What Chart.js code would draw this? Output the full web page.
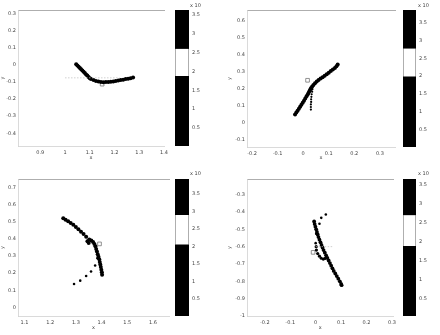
<!DOCTYPE html>
<html><head><meta charset="utf-8">
<script src="https://cdn.jsdelivr.net/npm/chart.js@4"></script>
<style>
html,body{margin:0;padding:0;background:#fff;}
#wrap{position:relative;width:440px;height:335px;overflow:hidden;background:#fff;}
canvas{position:absolute;}
.exp{position:absolute;font:5px "DejaVu Sans";color:#444;white-space:nowrap;}
</style></head><body>
<div id="wrap">
<canvas id="s1" width="172" height="165" style="left:0;top:0;width:172px;height:165px"></canvas>
<canvas id="c1" width="48" height="165" style="left:172px;top:0;width:48px;height:165px"></canvas>
<canvas id="s2" width="180" height="165" style="left:220px;top:0;width:180px;height:165px"></canvas>
<canvas id="c2" width="40" height="165" style="left:400px;top:0;width:40px;height:165px"></canvas>
<canvas id="s3" width="174" height="167" style="left:0;top:168px;width:174px;height:167px"></canvas>
<canvas id="c3" width="46" height="167" style="left:174px;top:168px;width:46px;height:167px"></canvas>
<canvas id="s4" width="180" height="167" style="left:220px;top:168px;width:180px;height:167px"></canvas>
<canvas id="c4" width="40" height="167" style="left:400px;top:168px;width:40px;height:167px"></canvas>
<div class="exp" style="left:190px;top:2px">x 10</div>
<div class="exp" style="left:418px;top:2px">x 10</div>
<div class="exp" style="left:190px;top:170px">x 10</div>
<div class="exp" style="left:418px;top:170px">x 10</div>
</div>
<script>
// ---------- Panel 1 (top-left) ----------
const p1XTicks = [0.9, 1, 1.1, 1.2, 1.3, 1.4];
const p1YTicks = [-0.4, -0.3, -0.2, -0.1, 0, 0.1, 0.2, 0.3];
const p1MainX = [1.045,1.05,1.055,1.06,1.065,1.07,1.075,1.08,1.085,1.09,1.095,1.10,1.105,1.115,1.125,1.135,1.145,1.155,1.165,1.175,1.185,1.195,1.205,1.215,1.225,1.235,1.245,1.255,1.265,1.275];
const p1MainY = [0.005,-0.002,-0.01,-0.018,-0.025,-0.032,-0.04,-0.047,-0.055,-0.062,-0.07,-0.077,-0.082,-0.088,-0.093,-0.097,-0.1,-0.101,-0.1,-0.1,-0.098,-0.096,-0.094,-0.091,-0.088,-0.086,-0.082,-0.08,-0.077,-0.073];
const p1MarkX = [1.15];
const p1MarkY = [-0.112];
const p1RefX = [1.0, 1.22];
const p1RefY = [-0.075, -0.075];
const cb1Ticks = [0.5, 1, 1.5, 2, 2.5, 3, 3.5];
const cb1Bands = [0.02, 1.87, 2.6, 3.63];

// ---------- Panel 2 (top-right) ----------
const p2XTicks = [-0.2, -0.1, 0, 0.1, 0.2, 0.3];
const p2YTicks = [-0.1, 0, 0.1, 0.2, 0.3, 0.4, 0.5, 0.6];
const p2MainX = [-0.032,-0.027,-0.022,-0.017,-0.012,-0.007,-0.002,0.003,0.008,0.013,0.018,0.022,0.026,0.03,0.035,0.04,0.046,0.053,0.06,0.068,0.076,0.084,0.092,0.1,0.108,0.116,0.124,0.13,0.135];
const p2MainY = [0.051,0.062,0.073,0.085,0.097,0.108,0.12,0.132,0.145,0.158,0.17,0.182,0.193,0.205,0.215,0.225,0.235,0.245,0.253,0.262,0.27,0.279,0.288,0.297,0.306,0.315,0.324,0.334,0.345];
const p2DotX = [0.03,0.03,0.03,0.031,0.031,0.032,0.033,0.035,0.036];
const p2DotY = [0.08,0.095,0.11,0.125,0.14,0.155,0.17,0.185,0.2];
const p2MarkX = [0.017];
const p2MarkY = [0.252];
const cb2Ticks = [0.5, 1, 1.5, 2, 2.5, 3, 3.5];
const cb2Bands = [0, 1.98, 2.78, 3.87];

// ---------- Panel 3 (bottom-left) ----------
const p3XTicks = [1.1, 1.2, 1.3, 1.4, 1.5, 1.6];
const p3YTicks = [0, 0.1, 0.2, 0.3, 0.4, 0.5, 0.6, 0.7];
const p3MainX = [1.251,1.26,1.27,1.28,1.29,1.30,1.31,1.32,1.33,1.34,1.345,1.35,1.352,1.36,1.367,1.372,1.376,1.379,1.382,1.385,1.388,1.391,1.393,1.395,1.397,1.399,1.401,1.402];
const p3MainY = [0.519,0.511,0.502,0.492,0.481,0.469,0.456,0.441,0.427,0.412,0.385,0.375,0.395,0.39,0.381,0.37,0.357,0.34,0.325,0.31,0.295,0.28,0.265,0.25,0.235,0.22,0.205,0.19];
const p3DotX = [1.293,1.317,1.34,1.359,1.375,1.384];
const p3DotY = [0.136,0.156,0.183,0.209,0.244,0.287];
const p3MarkX = [1.392];
const p3MarkY = [0.37];
const cb3Ticks = [0.5, 1, 1.5, 2, 2.5, 3, 3.5];
const cb3Bands = [0.02, 2.05, 2.9, 3.93];

// ---------- Panel 4 (bottom-right) ----------
const p4XTicks = [-0.2, -0.1, 0, 0.1, 0.2, 0.3];
const p4YTicks = [-1, -0.9, -0.8, -0.7, -0.6, -0.5, -0.4, -0.3];
const p4MainX = [-0.006,-0.004,-0.001,0.002,0.005,0.008,0.011,0.015,0.019,0.023,0.027,0.031,0.036,0.041,0.046,0.051,0.056,0.061,0.066,0.071,0.077,0.083,0.089,0.095,0.1,0.102];
const p4MainY = [-0.455,-0.47,-0.485,-0.5,-0.515,-0.53,-0.545,-0.56,-0.575,-0.59,-0.605,-0.62,-0.635,-0.65,-0.665,-0.68,-0.695,-0.71,-0.725,-0.74,-0.755,-0.77,-0.785,-0.8,-0.815,-0.822];
const p4HookX = [0.002,0.003,0.008,0.015,0.022,0.03,0.037];
const p4HookY = [-0.6,-0.62,-0.64,-0.655,-0.667,-0.672,-0.668];
const p4DotX = [0.04,0.022,0.015,0.002,0.0];
const p4DotY = [-0.415,-0.434,-0.468,-0.526,-0.58];
const p4MarkX = [-0.01];
const p4MarkY = [-0.633];
const p4RefX = [0.0, 0.065];
const p4RefY = [-0.6, -0.6];
const cb4Ticks = [0.5, 1, 1.5, 2, 2.5, 3, 3.5];
const cb4Bands = [0.03, 1.87, 2.69, 3.65];

// ---------- helpers ----------
const FONT = {family: 'DejaVu Sans', size: 5};
const fmt = v => String(Math.round(v * 100) / 100);
const pts = (xs, ys) => xs.map((x, i) => ({x: x, y: ys[i]}));

function dots(xs, ys, r) {
  return {type: 'scatter', data: pts(xs, ys), pointRadius: r, pointHoverRadius: r,
    backgroundColor: '#000', borderWidth: 0, showLine: false};
}
function marker(xs, ys) {
  return {type: 'scatter', data: pts(xs, ys), pointStyle: 'rect', pointRadius: 2.6,
    backgroundColor: 'rgba(0,0,0,0)', borderColor: '#777', borderWidth: 0.8, showLine: false};
}
function refLine(xs, ys) {
  return {type: 'line', data: pts(xs, ys), borderColor: '#bbb', borderWidth: 0.7,
    borderDash: [1.5, 1.5], pointRadius: 0, fill: false};
}

function scatterChart(id, c) {
  new Chart(document.getElementById(id), {
    type: 'scatter',
    data: {datasets: c.datasets},
    options: {
      responsive: false, animation: false,
      layout: {padding: {left: c.padL, top: c.padT, right: c.padR, bottom: 0}},
      plugins: {legend: {display: false}, tooltip: {enabled: false}},
      scales: {
        x: {type: 'linear', position: 'bottom', min: c.xMin, max: c.xMax,
          afterBuildTicks: s => { s.ticks = c.xTicks.map(v => ({value: v})); },
          afterFit: s => { s.height = c.xH; },
          grid: {display: false, drawTicks: false}, border: {color: '#d0d0d0', width: 0.8},
          ticks: {font: FONT, color: '#444', padding: 4, maxRotation: 0, autoSkip: false, callback: fmt},
          title: {display: true, text: 'x', font: FONT, color: '#444', padding: {top: 0, bottom: 4}}},
        xt: {type: 'linear', position: 'top', min: c.xMin, max: c.xMax,
          afterFit: s => { s.height = 0; },
          grid: {display: false, drawTicks: false}, border: {color: '#999', width: 0.8},
          ticks: {display: false}},
        y: {type: 'linear', position: 'left', min: c.yMin, max: c.yMax,
          afterBuildTicks: s => { s.ticks = c.yTicks.map(v => ({value: v})); },
          afterFit: s => { s.width = c.yW; },
          grid: {display: false, drawTicks: false}, border: {color: '#d0d0d0', width: 0.8},
          ticks: {font: FONT, color: '#444', padding: 2, autoSkip: false, callback: fmt},
          title: {display: true, text: 'y', font: FONT, color: '#444', padding: {top: 0, bottom: 0}}}
      }
    }
  });
}

function colorbar(id, bands, ticks, c) {
  const seg = (lo, hi, col, border) => ({
    data: [[lo, hi]], backgroundColor: col, grouped: false,
    borderColor: '#555', borderWidth: border ? {left: 0.8, right: 0.8, top: 0, bottom: 0} : 0,
    borderSkipped: false, barPercentage: 1, categoryPercentage: 1});
  new Chart(document.getElementById(id), {
    type: 'bar',
    data: {labels: [''], datasets: [
      seg(bands[0], bands[1], '#000', false),
      seg(bands[1], bands[2], '#fff', true),
      seg(bands[2], bands[3], '#000', false)]},
    options: {
      responsive: false, animation: false,
      layout: {padding: {left: c.padL, top: c.padT, right: 0, bottom: c.padB}},
      plugins: {legend: {display: false}, tooltip: {enabled: false}},
      scales: {
        x: {display: false},
        y: {position: 'right', min: bands[0], max: bands[3],
          afterBuildTicks: s => { s.ticks = ticks.map(v => ({value: v})); },
          afterFit: s => { s.width = c.yW; },
          grid: {display: false, drawTicks: false}, border: {display: false},
          ticks: {font: FONT, color: '#444', padding: 3, autoSkip: false, callback: fmt}}
      }
    }
  });
}

// ---------- build ----------
scatterChart('s1', {xMin: 0.81, xMax: 1.4, yMin: -0.475, yMax: 0.323, xTicks: p1XTicks, yTicks: p1YTicks,
  padL: 0, padT: 10, padR: 4, yW: 18, xH: 19,
  datasets: [refLine(p1RefX, p1RefY), dots(p1MainX, p1MainY, 2), marker(p1MarkX, p1MarkY)]});
colorbar('c1', cb1Bands, cb1Ticks, {padL: 3, padT: 10, padB: 19, yW: 31});

scatterChart('s2', {xMin: -0.22, xMax: 0.36, yMin: -0.14, yMax: 0.665, xTicks: p2XTicks, yTicks: p2YTicks,
  padL: 7, padT: 10, padR: 2, yW: 20, xH: 18,
  datasets: [dots(p2MainX, p2MainY, 2), dots(p2DotX, p2DotY, 1.1), marker(p2MarkX, p2MarkY)]});
colorbar('c2', cb2Bands, cb2Ticks, {padL: 3, padT: 10, padB: 18, yW: 24});

scatterChart('s3', {xMin: 1.075, xMax: 1.663, yMin: -0.05, yMax: 0.748, xTicks: p3XTicks, yTicks: p3YTicks,
  padL: 0, padT: 11, padR: 1, yW: 18, xH: 19,
  datasets: [dots(p3MainX, p3MainY, 2), dots(p3DotX, p3DotY, 1.3), marker(p3MarkX, p3MarkY)]});
colorbar('c3', cb3Bands, cb3Ticks, {padL: 1, padT: 11, padB: 19, yW: 31});

scatterChart('s4', {xMin: -0.27, xMax: 0.306, yMin: -1, yMax: -0.21, xTicks: p4XTicks, yTicks: p4YTicks,
  padL: 7, padT: 11, padR: 3, yW: 20, xH: 19,
  datasets: [refLine(p4RefX, p4RefY), dots(p4MainX, p4MainY, 1.9), dots(p4HookX, p4HookY, 1.6),
    dots(p4DotX, p4DotY, 1.3), marker(p4MarkX, p4MarkY)]});
colorbar('c4', cb4Bands, cb4Ticks, {padL: 3, padT: 11, padB: 19, yW: 24});
</script>
</body></html>
